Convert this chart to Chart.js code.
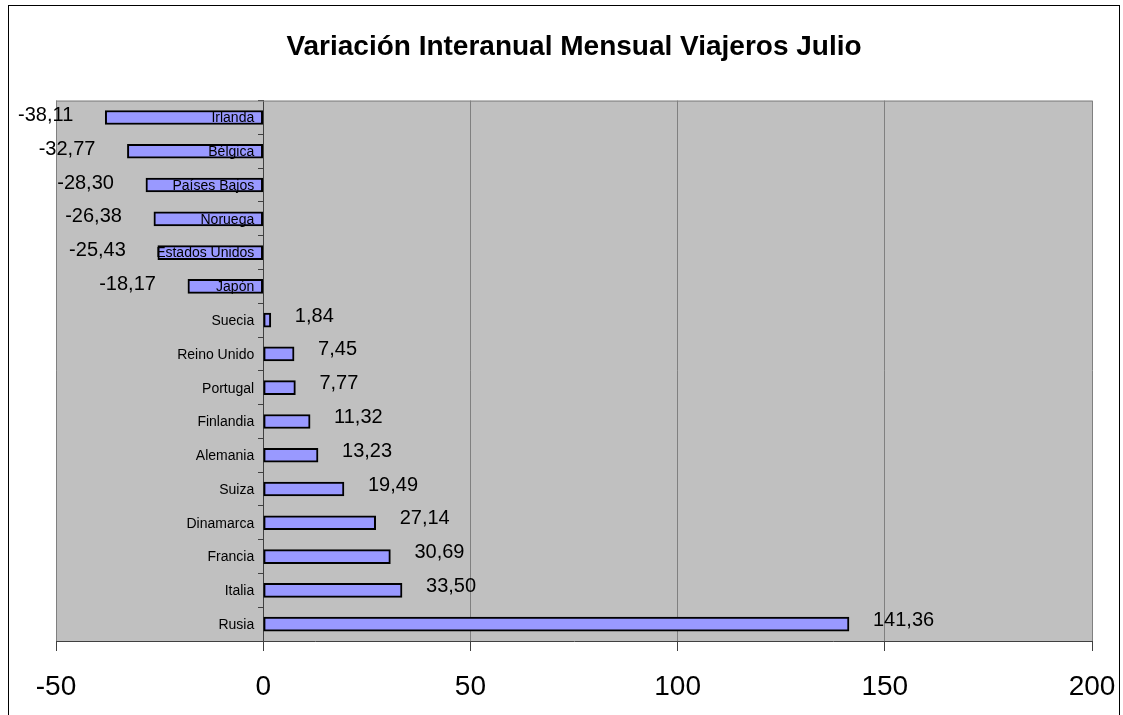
<!DOCTYPE html>
<html>
<head>
<meta charset="utf-8">
<script src="https://cdn.jsdelivr.net/npm/chart.js@4/dist/chart.umd.min.js"></script>
<style>
  html, body { margin: 0; padding: 0; background: #fff; }
  #wrap { width: 1123px; height: 715px; }
</style>
</head>
<body>
<div id="wrap"><canvas id="viajerosChart" width="1123" height="715"></canvas></div>
<script>
// Datos: variación interanual de viajeros, julio
const paises = [
  'Irlanda', 'Bélgica', 'Países Bajos', 'Noruega', 'Estados Unidos', 'Japón',
  'Suecia', 'Reino Unido', 'Portugal', 'Finlandia', 'Alemania', 'Suiza',
  'Dinamarca', 'Francia', 'Italia', 'Rusia'
];
const variacion = [
  -38.11, -32.77, -28.30, -26.38, -25.43, -18.17,
  1.84, 7.45, 7.77, 11.32, 13.23, 19.49,
  27.14, 30.69, 33.50, 141.36
];
const ejeMin = -50;
const ejeMax = 200;
const ejePaso = 50;

const FONT = '"Liberation Sans", Arial, sans-serif';

// Fondo blanco, marco exterior y fondo gris del área de trazado
const marcoPlugin = {
  id: 'marco',
  beforeDraw(chart) {
    const ctx = chart.ctx;
    const a = chart.chartArea;
    ctx.save();
    ctx.fillStyle = '#fff';
    ctx.fillRect(0, 0, chart.width, chart.height);
    ctx.strokeStyle = '#000';
    ctx.lineWidth = 1;
    ctx.strokeRect(8.5, 5.5, 1111, 800);
    ctx.fillStyle = '#c0c0c0';
    ctx.fillRect(a.left, a.top, a.right - a.left, a.bottom - a.top);
    ctx.restore();
  },
  beforeDatasetsDraw(chart) {
    const ctx = chart.ctx;
    const a = chart.chartArea;
    ctx.save();
    ctx.strokeStyle = '#808080';
    ctx.lineWidth = 1;
    ctx.beginPath();
    ctx.moveTo(a.left, a.top + 0.5);
    ctx.lineTo(a.right, a.top + 0.5);
    ctx.stroke();
    ctx.restore();
  }
};

// Nombres de país junto al eje del cero y valores junto a cada barra
const etiquetasPlugin = {
  id: 'etiquetas',
  afterDatasetsDraw(chart) {
    const ctx = chart.ctx;
    const xs = chart.scales.x;
    const ys = chart.scales.y;
    const cero = xs.getPixelForValue(0);
    const meta = chart.getDatasetMeta(0);
    ctx.save();
    ctx.fillStyle = '#000';
    ctx.textBaseline = 'middle';

    ctx.font = '14px ' + FONT;
    ctx.textAlign = 'right';
    paises.forEach((p, i) => {
      ctx.fillText(p, cero - 9, ys.getPixelForValue(i) + 1);
    });

    ctx.font = '20px ' + FONT;
    meta.data.forEach((bar, i) => {
      const v = variacion[i];
      const txt = v.toFixed(2).replace('.', ',');
      if (v >= 0) {
        ctx.textAlign = 'left';
        ctx.fillText(txt, bar.x + 24, bar.y - 4);
      } else {
        ctx.textAlign = 'right';
        ctx.fillText(txt, bar.x - 32, bar.y - 2);
      }
    });
    ctx.restore();
  }
};

const ctx = document.getElementById('viajerosChart').getContext('2d');

new Chart(ctx, {
  type: 'bar',
  data: {
    labels: paises,
    datasets: [{
      label: 'Variación',
      data: variacion,
      backgroundColor: '#9999ff',
      borderColor: '#000',
      borderWidth: 2,
      borderSkipped: false,
      barThickness: 14
    }]
  },
  options: {
    indexAxis: 'y',
    responsive: false,
    animation: false,
    layout: {
      padding: { left: 56, right: 31, top: 0, bottom: 0 }
    },
    scales: {
      x: {
        min: ejeMin,
        max: ejeMax,
        afterFit(scale) {
          // el área de trazado ocupa todo el ancho y deja 74 px abajo
          scale.paddingLeft = 0;
          scale.paddingRight = 0;
          scale.height = 74;
        },
        ticks: {
          stepSize: ejePaso,
          color: '#000',
          font: { family: FONT, size: 28 },
          padding: 19
        },
        grid: {
          color: '#808080',
          lineWidth: 1,
          tickLength: 10,
          tickColor: '#404040'
        },
        border: { color: '#404040', width: 1 }
      },
      y: {
        position: { x: 0 },
        ticks: { display: false },
        grid: {
          drawOnChartArea: false,
          drawTicks: true,
          tickLength: 5,
          tickColor: '#404040'
        },
        border: { color: '#404040', width: 1 }
      }
    },
    plugins: {
      legend: { display: false },
      tooltip: { enabled: false },
      title: {
        display: true,
        text: 'Variación Interanual Mensual Viajeros Julio',
        color: '#000',
        font: { family: FONT, size: 28, weight: 'bold' },
        padding: { top: 30, bottom: 37 }
      }
    }
  },
  plugins: [marcoPlugin, etiquetasPlugin]
});
</script>
</body>
</html>
